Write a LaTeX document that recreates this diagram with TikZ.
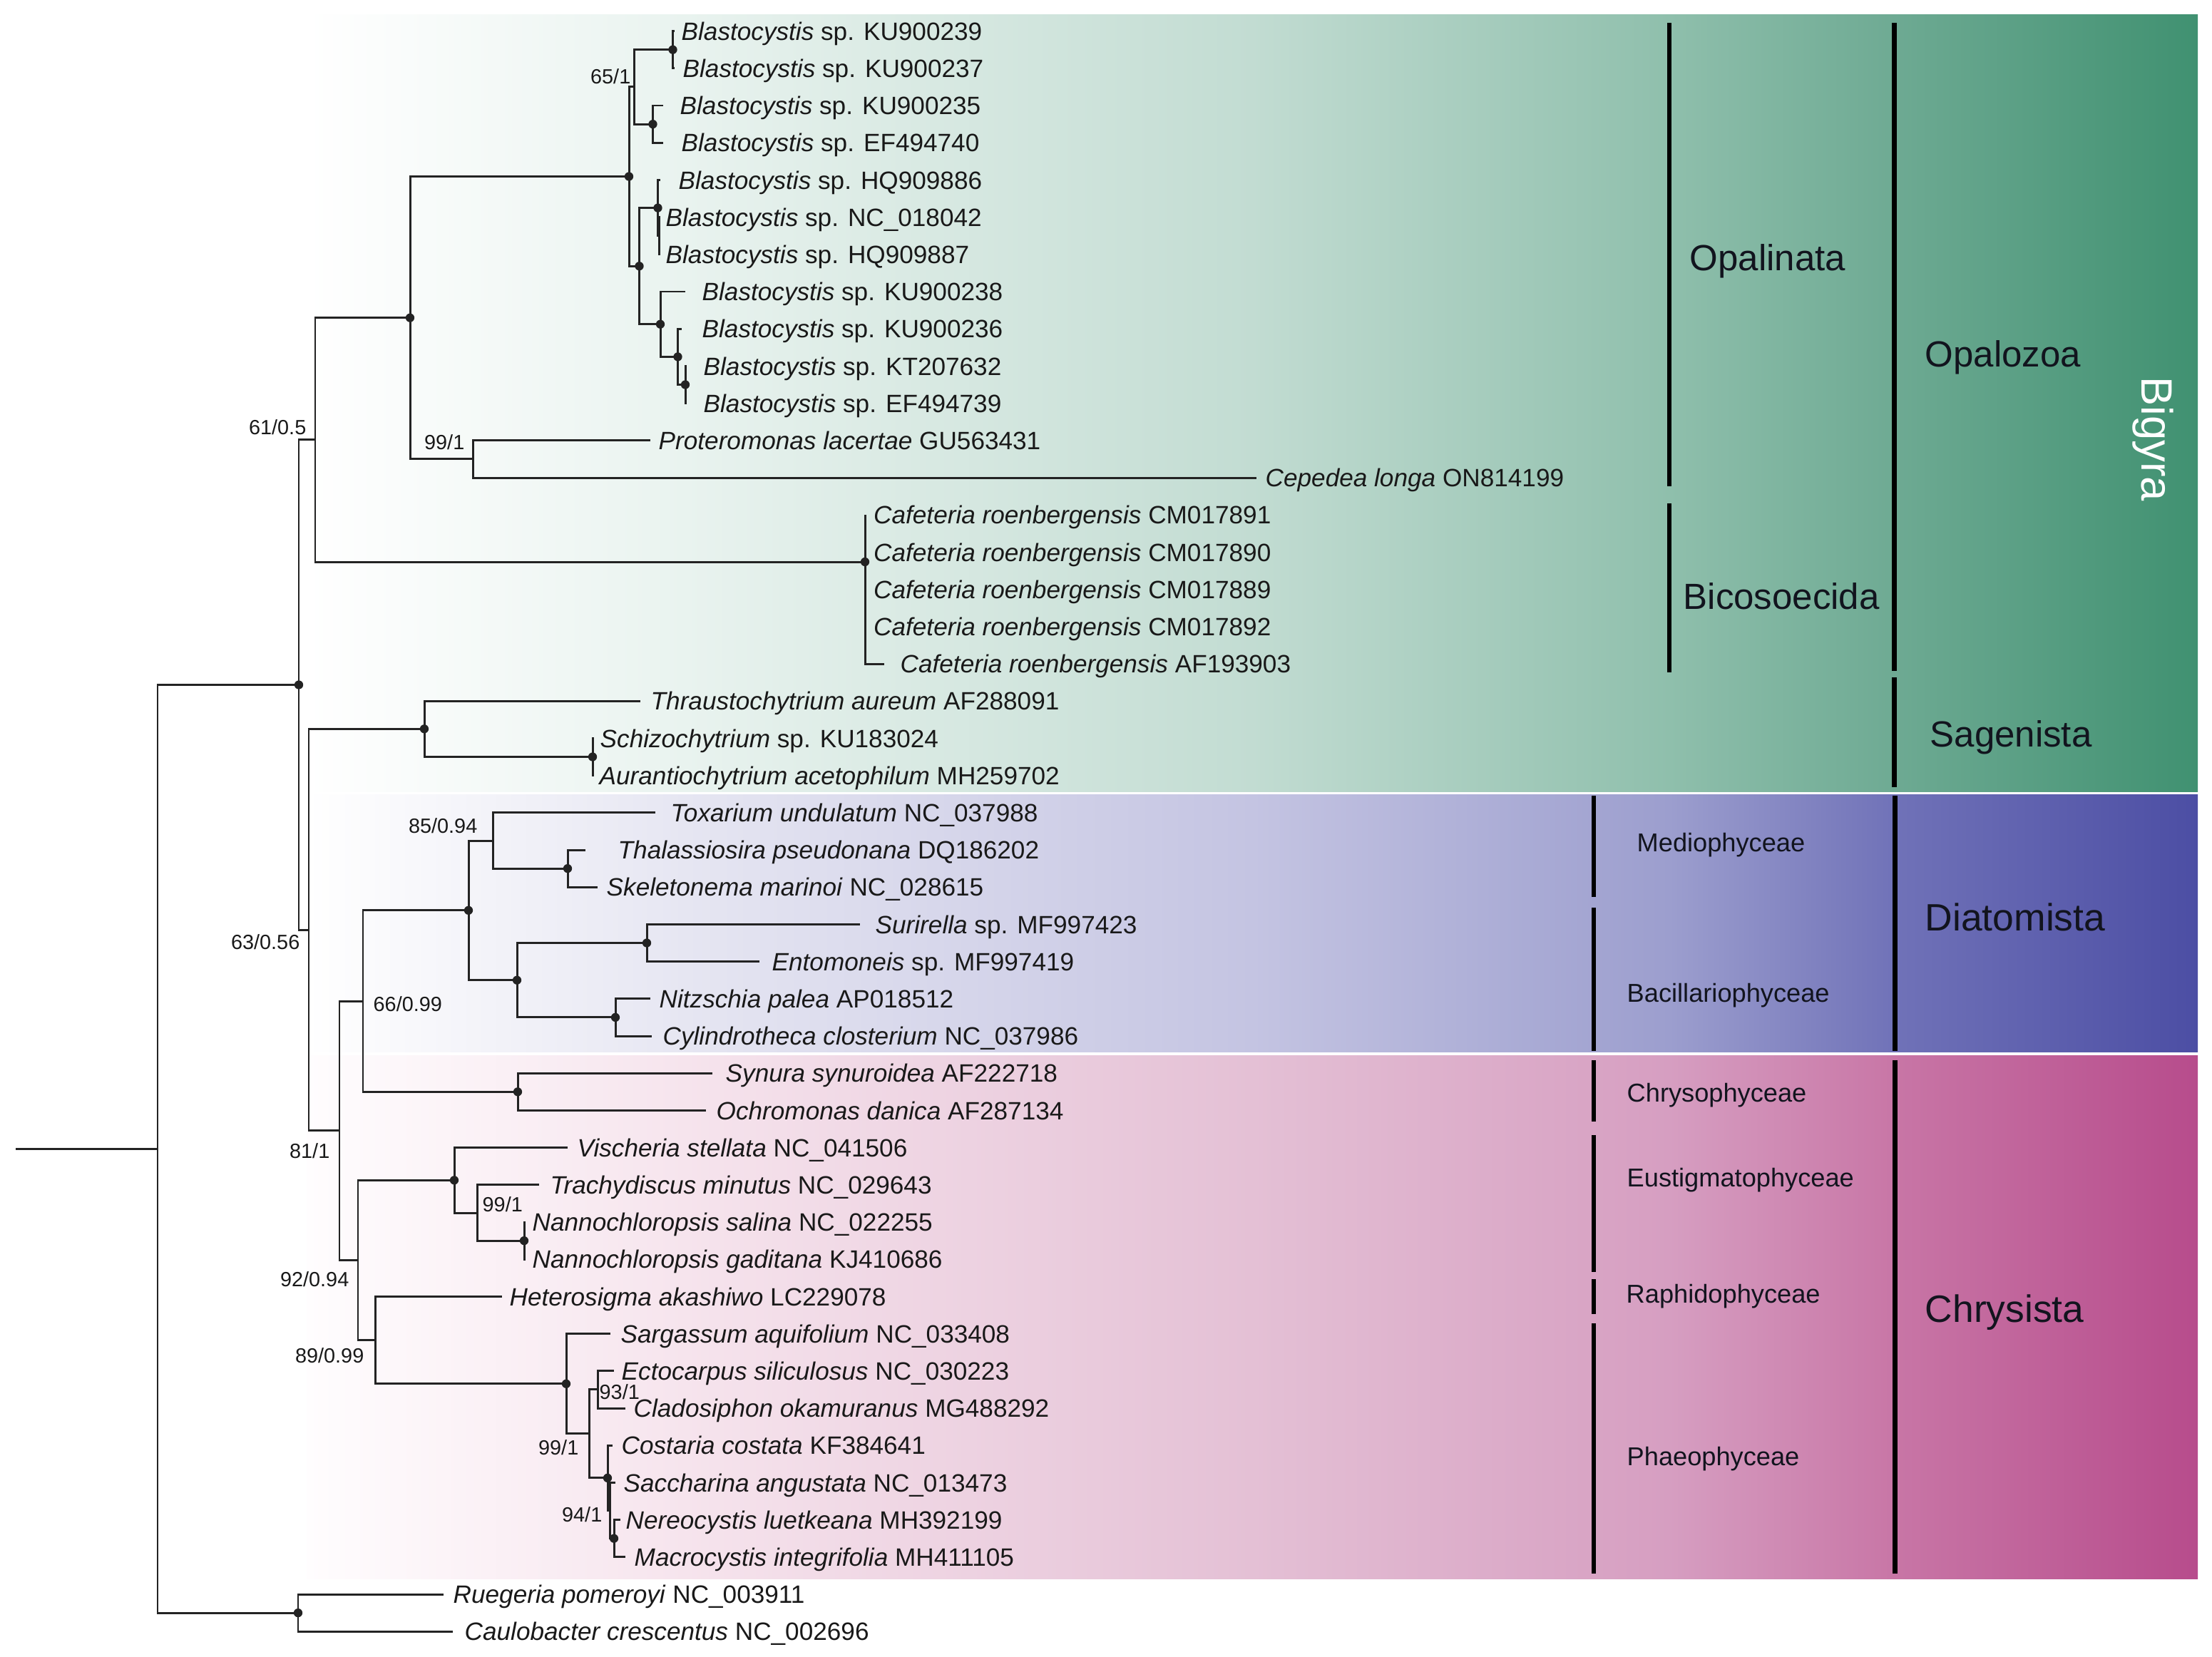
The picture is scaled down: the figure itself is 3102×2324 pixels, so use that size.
\documentclass[tikz,border=0pt]{standalone}
\usepackage{fontspec}
\setmainfont{Liberation Sans}
\definecolor{treec}{RGB}{35,35,35}
\definecolor{txtc}{RGB}{25,25,25}
\definecolor{labc}{RGB}{18,20,30}
% green band stops
\definecolor{gA}{RGB}{255,255,255}
\definecolor{gB}{RGB}{233,243,239}
\definecolor{gC}{RGB}{194,220,210}
\definecolor{gD}{RGB}{143,191,172}
\definecolor{gE}{RGB}{110,170,147}
\definecolor{gF}{RGB}{64,145,113}
% diatom band stops
\definecolor{dA}{RGB}{255,255,255}
\definecolor{dB}{RGB}{230,230,242}
\definecolor{dC}{RGB}{196,196,226}
\definecolor{dD}{RGB}{156,158,206}
\definecolor{dE}{RGB}{112,114,184}
\definecolor{dF}{RGB}{76,78,164}
% chrysista band stops
\definecolor{cA}{RGB}{255,253,254}
\definecolor{cB}{RGB}{246,228,237}
\definecolor{cC}{RGB}{228,192,213}
\definecolor{cD}{RGB}{214,158,193}
\definecolor{cE}{RGB}{200,118,166}
\definecolor{cF}{RGB}{183,76,140}
\newcommand{\bandseg}[6]{\shade[left color=#5,right color=#6] (#1,#3) rectangle (#2,#4);}
\newcommand{\band}[8]{%
  \bandseg{430}{961}{#1}{#2}{#3}{#4}%
  \bandseg{960}{1757}{#1}{#2}{#4}{#5}%
  \bandseg{1756}{2342}{#1}{#2}{#5}{#6}%
  \bandseg{2341}{2657}{#1}{#2}{#6}{#7}%
  \bandseg{2656}{3082}{#1}{#2}{#7}{#8}}
\newcommand{\mkleaf}[5]{%
  \coordinate (#1) at (#2,#4);
  \node[taxon] (#1t) at (#3,#4+12.6) {#5};}
\tikzset{
  br/.style={draw=treec, line width=0.85pt},
  taxon/.style={anchor=base west, inner sep=0pt, text=txtc, font=\fontsize{10}{12}\selectfont},
  supp/.style={inner sep=0pt, text=txtc, font=\fontsize{8.2}{10}\selectfont},
  clade/.style={anchor=base west, inner sep=0pt, text=labc, font=\fontsize{14.5}{17}\selectfont},
  bigclade/.style={anchor=base west, inner sep=0pt, text=labc, font=\fontsize{15.2}{18}\selectfont},
  cls/.style={anchor=base west, inner sep=0pt, text=labc, font=\fontsize{10.3}{12}\selectfont},
  thinbar/.style={draw=black, line width=1.45pt},
  thickbar/.style={draw=black, line width=2pt},
}
\begin{document}
\begin{tikzpicture}[x=0.01cm,y=-0.01cm]
\useasboundingbox (0,0) rectangle (3102,2324);
\fill[white] (0,0) rectangle (3102,2324);

% ---------- coloured bands ----------
\band{20}{1110}{gA}{gB}{gC}{gD}{gE}{gF}
\band{1114}{1475}{dA}{dB}{dC}{dD}{dE}{dF}
\band{1480}{2214}{cA}{cB}{cC}{cD}{cE}{cF}

% ---------- clade bars ----------
\draw[thinbar] (2341,32) -- (2341,682);
\draw[thinbar] (2341,706) -- (2341,943);
\draw[thickbar] (2656,32) -- (2656,941);
\draw[thickbar] (2656,950) -- (2656,1104);
\draw[thinbar] (2235,1116) -- (2235,1258);
\draw[thinbar] (2235,1273) -- (2235,1474);
\draw[thickbar] (2657,1116) -- (2657,1474);
\draw[thinbar] (2235,1487) -- (2235,1573);
\draw[thinbar] (2235,1592) -- (2235,1784);
\draw[thinbar] (2235,1794) -- (2235,1843);
\draw[thinbar] (2235,1856) -- (2235,2207);
\draw[thickbar] (2657,1487) -- (2657,2207);

% ---------- clade labels ----------
\node[clade] (opalinata) at (2369,379) {Opalinata};
\node[clade] (opalozoa) at (2699,514) {Opalozoa};
\node[clade] (bicosoecida) at (2360,854) {Bicosoecida};
\node[clade] (sagenista) at (2706,1047) {Sagenista};
\node[bigclade] (diatomista) at (2699,1305) {Diatomista};
\node[bigclade] (chrysista) at (2699,1854) {Chrysista};
\node[cls] (medio) at (2295,1194) {Mediophyceae};
\node[cls] (bacil) at (2281,1405) {Bacillariophyceae};
\node[cls] (chryso) at (2281,1545) {Chrysophyceae};
\node[cls] (eustig) at (2281,1664) {Eustigmatophyceae};
\node[cls] (raphi) at (2280,1827) {Raphidophyceae};
\node[cls] (phaeo) at (2281,2055) {Phaeophyceae};
\node[inner sep=0pt, text=white, font=\fontsize{17.5}{20}\selectfont, rotate=-90] (bigyra) at (3019,616) {Bigyra};

% ---------- internal nodes ----------
\coordinate (root) at (221,1611.3);
\coordinate (rootL) at (22,1611.3);
\coordinate (A) at (419,960.5);
\coordinate (RC) at (418,2262.1);
\coordinate (B) at (442,616.9);
\coordinate (C) at (433,1304);
\coordinate (W) at (575,445.7);
\coordinate (Caf) at (1213,788);
\coordinate (X) at (882,247.5);
\coordinate (P99) at (663,643.9);
\coordinate (Y) at (889.5,121.9);
\coordinate (Y1) at (943.5,69.7);
\coordinate (Y2) at (915.5,174.1);
\coordinate (Z) at (896.5,373.2);
\coordinate (Z1) at (922.5,291.6);
\coordinate (Z1b) at (924,330.7);
\coordinate (Z2) at (926,454.7);
\coordinate (Z3) at (950.5,500.4);
\coordinate (Z4) at (961,539.5);
\coordinate (Sag) at (595,1022.3);
\coordinate (Sch) at (831,1061.5);
\coordinate (D) at (476,1585.7);
\coordinate (E) at (509,1404);
\coordinate (G) at (657,1276.8);
\coordinate (H) at (691,1179);
\coordinate (I) at (796,1218.1);
\coordinate (J) at (725,1374.7);
\coordinate (K) at (907,1322.5);
\coordinate (L) at (863,1426.9);
\coordinate (M) at (726,1531.3);
\coordinate (F) at (502,1767.5);
\coordinate (N) at (637,1655.3);
\coordinate (O) at (669,1701);
\coordinate (P) at (735,1740.1);
\coordinate (Q) at (526,1879.6);
\coordinate (R) at (794,1940.8);
\coordinate (S) at (826,2010.9);
\coordinate (T) at (838,1948.9);
\coordinate (U) at (852,2072.9);
\coordinate (U2) at (855,2118.5);
\coordinate (V) at (861,2157.7);

% ---------- leaves ----------
\mkleaf{l1}{946}{955}{43.6}{\textit{Blastocystis} sp. KU900239}
\mkleaf{l2}{946}{957}{95.8}{\textit{Blastocystis} sp. KU900237}
\mkleaf{l3}{929.5}{953}{148}{\textit{Blastocystis} sp. KU900235}
\mkleaf{l4}{929.5}{955}{200.2}{\textit{Blastocystis} sp. EF494740}
\mkleaf{l5}{926}{951}{252.4}{\textit{Blastocystis} sp. HQ909886}
\mkleaf{l6}{926}{933}{304.6}{\textit{Blastocystis} sp. NC\_018042}
\mkleaf{l7}{926}{933}{356.8}{\textit{Blastocystis} sp. HQ909887}
\mkleaf{l8}{961}{984}{409}{\textit{Blastocystis} sp. KU900238}
\mkleaf{l9}{955.5}{984}{461.2}{\textit{Blastocystis} sp. KU900236}
\mkleaf{l10}{963}{986}{513.4}{\textit{Blastocystis} sp. KT207632}
\mkleaf{l11}{963}{986}{565.6}{\textit{Blastocystis} sp. EF494739}
\mkleaf{l12}{912}{923}{617.8}{\textit{Proteromonas lacertae} GU563431}
\mkleaf{l13}{1762}{1774}{670}{\textit{Cepedea longa} ON814199}
\mkleaf{l14}{1213}{1224.5}{722.2}{\textit{Cafeteria roenbergensis} CM017891}
\mkleaf{l15}{1213}{1224.5}{774.4}{\textit{Cafeteria roenbergensis} CM017890}
\mkleaf{l16}{1213}{1224.5}{826.6}{\textit{Cafeteria roenbergensis} CM017889}
\mkleaf{l17}{1213}{1224.5}{878.8}{\textit{Cafeteria roenbergensis} CM017892}
\mkleaf{l18}{1239.5}{1262}{931}{\textit{Cafeteria roenbergensis} AF193903}
\mkleaf{l19}{898}{912}{983.2}{\textit{Thraustochytrium aureum} AF288091}
\mkleaf{l20}{833}{841}{1035.4}{\textit{Schizochytrium} sp. KU183024}
\mkleaf{l21}{833}{840}{1087.6}{\textit{Aurantiochytrium acetophilum} MH259702}
\mkleaf{l22}{919}{940}{1139.8}{\textit{Toxarium undulatum} NC\_037988}
\mkleaf{l23}{821}{866}{1192}{\textit{Thalassiosira pseudonana} DQ186202}
\mkleaf{l24}{838}{850}{1244.2}{\textit{Skeletonema marinoi} NC\_028615}
\mkleaf{l25}{1206}{1227}{1296.4}{\textit{Surirella} sp. MF997423}
\mkleaf{l26}{1065}{1082}{1348.6}{\textit{Entomoneis} sp. MF997419}
\mkleaf{l27}{912}{924}{1400.8}{\textit{Nitzschia palea} AP018512}
\mkleaf{l28}{914}{929}{1453}{\textit{Cylindrotheca closterium} NC\_037986}
\mkleaf{l29}{999}{1017}{1505.2}{\textit{Synura synuroidea} AF222718}
\mkleaf{l30}{990}{1004}{1557.4}{\textit{Ochromonas danica} AF287134}
\mkleaf{l31}{796}{809}{1609.6}{\textit{Vischeria stellata} NC\_041506}
\mkleaf{l32}{756}{771}{1661.8}{\textit{Trachydiscus minutus} NC\_029643}
\mkleaf{l33}{737}{746}{1714}{\textit{Nannochloropsis salina} NC\_022255}
\mkleaf{l34}{737}{746}{1766.2}{\textit{Nannochloropsis gaditana} KJ410686}
\mkleaf{l35}{704}{714}{1818.4}{\textit{Heterosigma akashiwo} LC229078}
\mkleaf{l36}{856}{870}{1870.6}{\textit{Sargassum aquifolium} NC\_033408}
\mkleaf{l37}{861}{871}{1922.8}{\textit{Ectocarpus siliculosus} NC\_030223}
\mkleaf{l38}{877}{888}{1975}{\textit{Cladosiphon okamuranus} MG488292}
\mkleaf{l39}{859}{871}{2027.2}{\textit{Costaria costata} KF384641}
\mkleaf{l40}{863}{874}{2079.4}{\textit{Saccharina angustata} NC\_013473}
\mkleaf{l41}{870}{877}{2131.6}{\textit{Nereocystis luetkeana} MH392199}
\mkleaf{l42}{877}{889}{2183.8}{\textit{Macrocystis integrifolia} MH411105}
\mkleaf{l43}{622}{635}{2236}{\textit{Ruegeria pomeroyi} NC\_003911}
\mkleaf{l44}{635}{651}{2288.2}{\textit{Caulobacter crescentus} NC\_002696}

% ---------- branches ----------
\draw[br] (rootL) -- (root);
\foreach \p/\c in {root/A, root/RC, A/B, A/C, B/W, B/Caf, W/X, W/P99,
  X/Y, X/Z, Y/Y1, Y/Y2, Y1/l1, Y1/l2, Y2/l3, Y2/l4, Z/Z1, Z/Z2,
  Z1/l5, Z1/Z1b, Z1b/l6, Z1b/l7, Z2/l8, Z2/Z3, Z3/l9, Z3/Z4, Z4/l10, Z4/l11,
  P99/l12, P99/l13, Caf/l14, Caf/l15, Caf/l16, Caf/l17, Caf/l18,
  C/Sag, C/D, Sag/l19, Sag/Sch, Sch/l20, Sch/l21,
  D/E, D/F, E/G, E/M, G/H, G/J, H/l22, H/I, I/l23, I/l24,
  J/K, J/L, K/l25, K/l26, L/l27, L/l28, M/l29, M/l30,
  F/N, F/Q, N/l31, N/O, O/l32, O/P, P/l33, P/l34,
  Q/l35, Q/R, R/l36, R/S, S/T, S/U, T/l37, T/l38,
  U/l39, U/U2, U2/l40, U2/V, V/l41, V/l42, RC/l43, RC/l44}
  \draw[br] (\p) |- (\c);

% ---------- node dots ----------
\foreach \n in {Y1, Y2, X, Z1, Z, Z2, Z3, Z4, W, Caf, A, Sag, Sch, I, G, J, K, L, M, N, P, R, U, V, RC}
  \fill[treec] (\n) circle[radius=1.75pt];

% ---------- support values ----------
\node[supp, anchor=base east] (s1) at (885,117) {65/1};
\node[supp, anchor=base east] (s2) at (430,609) {61/0.5};
\node[supp, anchor=base east] (s3) at (652,630) {99/1};
\node[supp, anchor=base east] (s4) at (421,1331) {63/0.56};
\node[supp, anchor=base east] (s5) at (670,1168) {85/0.94};
\node[supp, anchor=base west] (s6) at (523,1418) {66/0.99};
\node[supp, anchor=base east] (s7) at (463,1624) {81/1};
\node[supp, anchor=base east] (s8) at (490,1804) {92/0.94};
\node[supp, anchor=base east] (s9) at (511,1911) {89/0.99};
\node[supp, anchor=base west] (s10) at (676,1699) {99/1};
\node[supp, anchor=base east] (s11) at (812,2040) {99/1};
\node[supp, anchor=base west] (s12) at (840,1962) {93/1};
\node[supp, anchor=base east] (s13) at (845,2134) {94/1};
\end{tikzpicture}
\end{document}
